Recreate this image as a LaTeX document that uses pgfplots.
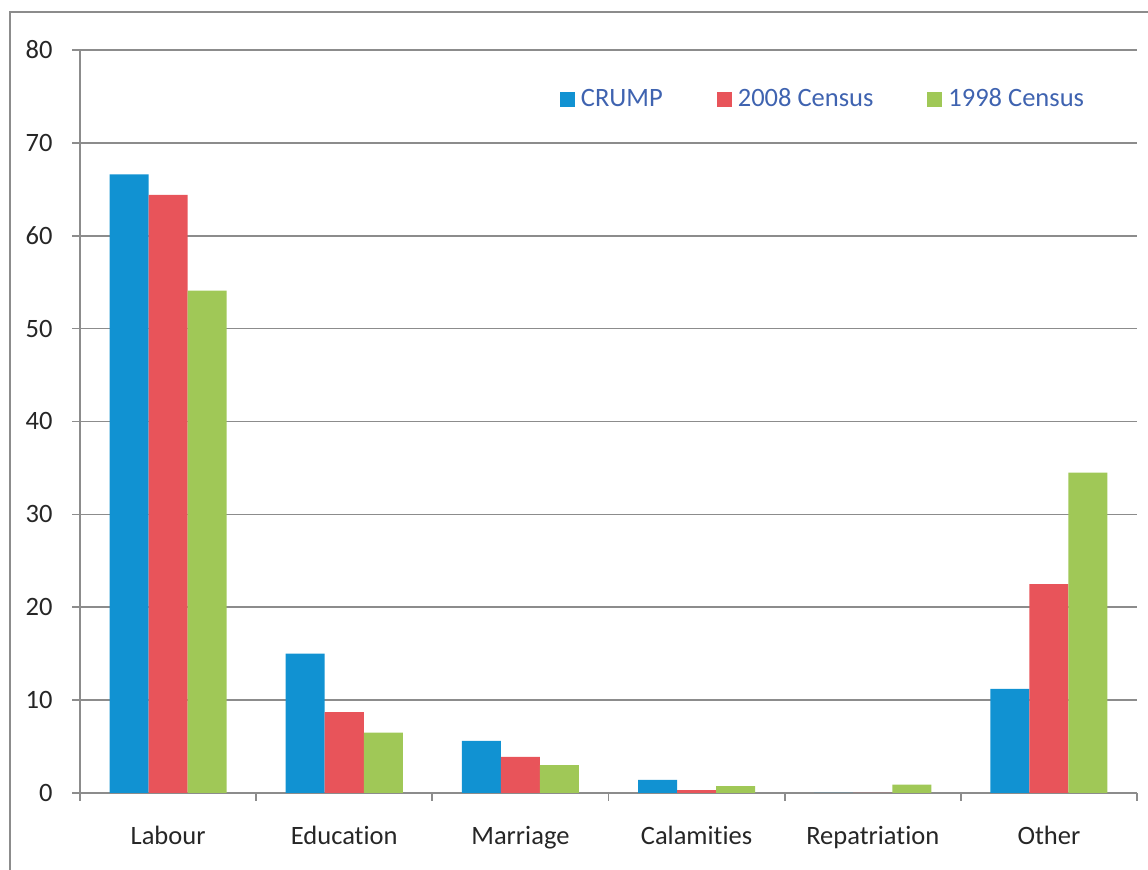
\documentclass[border=0pt]{standalone}
\usepackage{fontspec}
\setmainfont{Carlito}[Ligatures={NoCommon}]
\usepackage{pgfplots}
\pgfplotsset{compat=1.18}
\definecolor{cblue}{HTML}{1192D2}
\definecolor{cred}{HTML}{E8545A}
\definecolor{cgreen}{HTML}{A0C857}
\definecolor{gridgray}{HTML}{8C8C8C}
\definecolor{legtext}{HTML}{3F63B0}
\definecolor{labtext}{HTML}{262626}
\begin{document}
\begin{tikzpicture}
\useasboundingbox (0,0) rectangle (574pt,435pt);
\draw[gridgray, line width=1pt] (5pt,0pt) -- (5pt,429pt) -- (574pt,429pt);
\begin{axis}[
  at={(40pt,38.5pt)}, anchor=south west,
  scale only axis, width=528.5pt, height=371.5pt,
  xmin=-0.5, xmax=5.5, ymin=0, ymax=80,
  ybar=0pt, bar width=0.2216,
  axis x line*=bottom, axis y line*=left,
  axis line style={-, gridgray, line width=0.85pt},
  xtick={0,1,2,3,4,5},
  xticklabels={Labour,Education,Marriage,Calamities,Repatriation,Other},
  minor xtick={-0.5,0.5,1.5,2.5,3.5,4.5,5.5},
  major x tick style={draw=none},
  minor x tick style={gridgray, line width=0.85pt},
  minor tick length=4pt,
  ytick={0,10,...,80},
  major tick length=4pt,
  tick align=outside,
  y tick style={gridgray, line width=0.85pt},
  ymajorgrids, major grid style={gridgray, line width=0.85pt},
  /pgf/number format/assume math mode=true,
  tick label style={font=\fontsize{13.25}{15}\selectfont, text=labtext},
  yticklabel style={anchor=east, inner sep=0pt, xshift=-9.5pt},
  xticklabel style={anchor=base, inner sep=0pt, yshift=-22pt},
  legend columns=3,
  legend style={draw=none, fill=none, at={(0.702,0.934)}, anchor=center,
    font=\fontsize{13.25}{15}\selectfont, text=legtext,
    nodes={inner sep=0pt},
    /tikz/every odd column/.append style={column sep=3pt},
    /tikz/every even column/.append style={column sep=27pt}},
]
\addplot[fill=cblue, draw=none, legend image code/.code={\fill[cblue] (0pt,-3.75pt) rectangle (7.5pt,3.75pt);}]
  coordinates {(0,66.6) (1,15.0) (2,5.6) (3,1.4) (4,0) (5,11.2)};
\addplot[fill=cred, draw=none, legend image code/.code={\fill[cred] (0pt,-3.75pt) rectangle (7.5pt,3.75pt);}]
  coordinates {(0,64.4) (1,8.7) (2,3.9) (3,0.3) (4,0) (5,22.5)};
\addplot[fill=cgreen, draw=none, legend image code/.code={\fill[cgreen] (0pt,-3.75pt) rectangle (7.5pt,3.75pt);}]
  coordinates {(0,54.1) (1,6.5) (2,3.0) (3,0.75) (4,0.9) (5,34.5)};
\legend{CRUMP,2008 Census,1998 Census}
\end{axis}
\end{tikzpicture}
\end{document}
